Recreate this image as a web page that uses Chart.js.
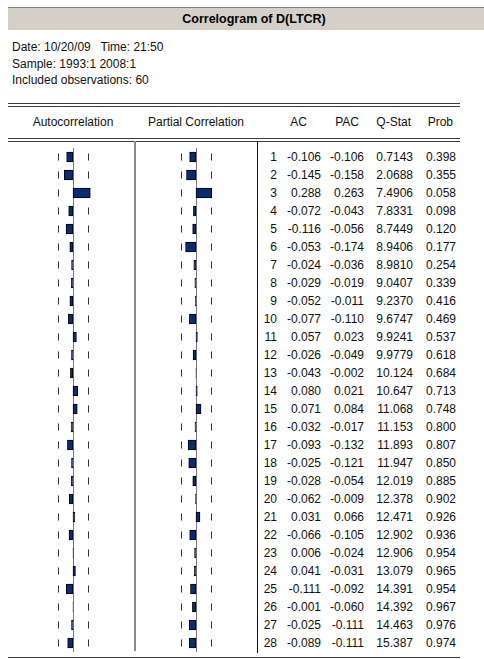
<!DOCTYPE html>
<html>
<head>
<meta charset="utf-8">
<script src="https://cdn.jsdelivr.net/npm/chart.js@4/dist/chart.umd.min.js"></script>
<style>
  html, body { margin:0; padding:0; background:#fff; }
  body { width:484px; height:659px; position:relative; overflow:hidden;
         font-family:"Liberation Sans", Arial, sans-serif; font-size:12px; color:#111; }
  .abs { position:absolute; white-space:pre; }
  .hline { position:absolute; height:1px; background:#3a3a3a; }
  .vline { position:absolute; }
  canvas { position:absolute; }
</style>
</head>
<body>
<script>
// ---------- data ----------
const chartTitle = "Correlogram of D(LTCR)";
const infoLines = ["Date: 10/20/09   Time: 21:50", "Sample: 1993:1 2008:1", "Included observations: 60"];
const observations = 60;
const columnHeaders = ["Autocorrelation", "Partial Correlation", "AC", "PAC", "Q-Stat", "Prob"];
const lags = [1,2,3,4,5,6,7,8,9,10,11,12,13,14,15,16,17,18,19,20,21,22,23,24,25,26,27,28];
const acValues = [-0.106,-0.145,0.288,-0.072,-0.116,-0.053,-0.024,-0.029,-0.052,-0.077,0.057,-0.026,-0.043,0.080,0.071,-0.032,-0.093,-0.025,-0.028,-0.062,0.031,-0.066,0.006,0.041,-0.111,-0.001,-0.025,-0.089];
const pacValues = [-0.106,-0.158,0.263,-0.043,-0.056,-0.174,-0.036,-0.019,-0.011,-0.110,0.023,-0.049,-0.002,0.021,0.084,-0.017,-0.132,-0.121,-0.054,-0.009,0.066,-0.105,-0.024,-0.031,-0.092,-0.060,-0.111,-0.111];
const qStats = [0.7143,2.0688,7.4906,7.8331,8.7449,8.9406,8.9810,9.0407,9.2370,9.6747,9.9241,9.9779,10.124,10.647,11.068,11.153,11.893,11.947,12.019,12.378,12.471,12.902,12.906,13.079,14.391,14.392,14.463,15.387];
const probs = [0.398,0.355,0.058,0.098,0.120,0.177,0.254,0.339,0.416,0.469,0.537,0.618,0.684,0.713,0.748,0.800,0.807,0.850,0.885,0.902,0.926,0.936,0.954,0.965,0.954,0.967,0.976,0.974];

// ---------- layout ----------
const ROW_TOP = 148, ROW_H = 18;
const body = document.body;
function el(tag, cls, css, text) {
  const e = document.createElement(tag);
  if (cls) e.className = cls;
  Object.assign(e.style, css);
  if (text !== undefined) e.textContent = text;
  body.appendChild(e);
  return e;
}
// title bar
el('div', 'abs', {left:'8px', top:'7px', width:'476px', height:'22px', background:'#d4d0c8',
  borderTop:'1px solid #808080', borderBottom:'1px solid #ffffff'});
el('div', 'abs', {left:'154px', top:'8px', width:'200px', height:'22px', lineHeight:'22px',
  textAlign:'center', fontWeight:'bold', fontSize:'12.5px', color:'#000'}, chartTitle);
// info lines
infoLines.forEach((t, i) => el('div', 'abs', {left:'12px', top:(39 + i*16.5)+'px', lineHeight:'16px'}, t));
// rules
[103, 106, 138, 141].forEach(y => el('div', 'hline', {left:'8px', top:y+'px', width:'452px'}));
el('div', 'hline', {left:'8px', top:'657px', width:'452px'});
// vertical separators
el('div', 'vline', {left:'134px', top:'141px', width:'2px', height:'510px', background:'#8a8a8a'});
el('div', 'vline', {left:'257px', top:'141px', width:'1px', height:'512px', background:'#111'});
// column headers
function rightText(right, top, text, h) {
  el('div', 'abs', {left:(right-80)+'px', width:'80px', textAlign:'right', top:top+'px', lineHeight:(h||ROW_H)+'px'}, text);
}
function centerText(cx, top, text) {
  el('div', 'abs', {left:(cx-100)+'px', width:'200px', textAlign:'center', top:top+'px', lineHeight:ROW_H+'px'}, text);
}
centerText(73, 113, columnHeaders[0]);
centerText(196, 113, columnHeaders[1]);
rightText(307, 113, columnHeaders[2]);
rightText(359, 113, columnHeaders[3]);
rightText(411, 113, columnHeaders[4]);
rightText(453, 113, columnHeaders[5]);
// table rows
const fmtQ = q => q < 10 ? q.toFixed(4) : q.toFixed(3);
lags.forEach((lag, i) => {
  const top = ROW_TOP + i*ROW_H;
  rightText(277, top, String(lag));
  rightText(321, top, acValues[i].toFixed(3));
  rightText(364, top, pacValues[i].toFixed(3));
  rightText(413, top, fmtQ(qStats[i]));
  rightText(456, top, probs[i].toFixed(3));
});

// ---------- charts ----------
const bound = 2 / Math.sqrt(observations);
const guidePlugin = {
  id: 'guides',
  beforeDatasetsDraw(chart) {
    const {ctx, chartArea, scales:{x, y}} = chart;
    ctx.save();
    const x0 = Math.round(x.getPixelForValue(0)) + 0.5;
    ctx.strokeStyle = '#7a7a7a';
    ctx.lineWidth = 1;
    ctx.beginPath(); ctx.moveTo(x0, chartArea.top); ctx.lineTo(x0, chartArea.bottom); ctx.stroke();
    ctx.strokeStyle = '#333';
    [-bound, bound].forEach(b => {
      const xb = Math.round(x.getPixelForValue(b)) + 0.5;
      lags.forEach((l, i) => {
        const yc = y.getPixelForValue(i);
        ctx.beginPath(); ctx.moveTo(xb, yc - 3.5); ctx.lineTo(xb, yc + 3.5); ctx.stroke();
      });
    });
    ctx.restore();
  }
};
function makeChart(left, values) {
  const c = document.createElement('canvas');
  c.width = 120; c.height = lags.length * ROW_H;
  Object.assign(c.style, {left:left+'px', top:ROW_TOP+'px', width:'120px', height:(lags.length*ROW_H)+'px'});
  body.appendChild(c);
  new Chart(c, {
    type: 'bar',
    data: { labels: lags, datasets: [{ data: values, backgroundColor:'#0c2a6e', borderColor:'#000',
      borderWidth:1, borderSkipped:false, barThickness:10 }] },
    options: {
      indexAxis:'y', responsive:false, animation:false, events:[],
      layout:{padding:0},
      plugins:{legend:{display:false}, tooltip:{enabled:false}},
      scales:{ x:{display:false, min:-1, max:1}, y:{display:false} }
    },
    plugins:[guidePlugin]
  });
}
makeChart(13, acValues);
makeChart(136, pacValues);
</script>
</body>
</html>
